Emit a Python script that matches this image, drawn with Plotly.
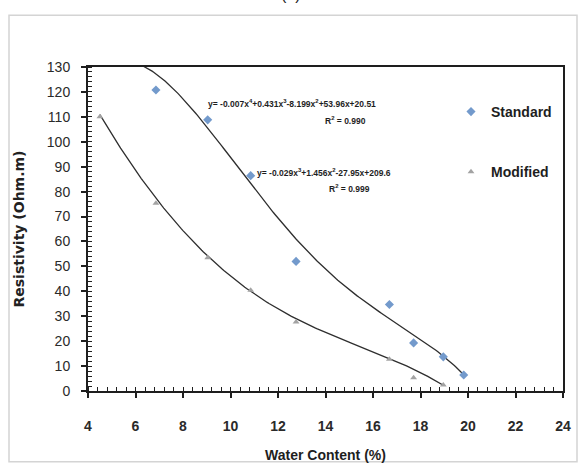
import numpy as np
import plotly.graph_objects as go

# ---- data ----
std_x = [6.86, 9.04, 10.85, 12.76, 16.69, 17.71, 18.96, 19.82]
std_y = [120.8, 108.8, 86.4, 52.0, 34.7, 19.3, 13.7, 6.4]
mod_x = [4.5, 6.86, 9.04, 10.85, 12.76, 16.69, 17.71, 18.96]
mod_y = [110.0, 75.3, 53.5, 40.4, 27.7, 12.7, 5.3, 2.4]

# points read along the trendlines drawn in the reference
std_fit_x = [6.44, 7.31, 8.01, 8.58, 9.14, 9.84, 10.54, 11.24, 11.94, 12.5,
             13.2, 13.63, 14.33, 15.03, 15.73, 16.57, 17.56, 18.54, 19.1, 19.82]
std_fit_y = [130, 123.1, 116.6, 111.5, 105.5, 97.5, 89.0, 80.6, 71.3, 63.2,
             55.6, 51.2, 45.0, 39.2, 33.9, 29.2, 23.8, 17.8, 13.7, 6.4]
mod_fit_x = [4.5, 5.49, 6.19, 6.89, 7.87, 9.0, 9.98, 10.85, 11.8, 12.76,
             13.9, 14.61, 15.73, 16.69, 17.83, 18.96]
mod_fit_y = [110, 97.0, 87.2, 76.0, 64.6, 54.0, 46.6, 40.6, 34.5, 28.9,
             23.6, 20.8, 17.0, 13.1, 8.0, 2.4]

x_ticks = [4, 6, 8, 10, 12, 14, 16, 18, 20, 22, 24]
y_ticks = [0, 10, 20, 30, 40, 50, 60, 70, 80, 90, 100, 110, 120, 130]

eq_std = "y= -0.007x<sup>4</sup>+0.431x<sup>3</sup>-8.199x<sup>2</sup>+53.96x+20.51"
r2_std = "R<sup>2</sup> = 0.990"
eq_mod = "y= -0.029x<sup>3</sup>+1.456x<sup>2</sup>-27.95x+209.6"
r2_mod = "R<sup>2</sup> = 0.999"

# smooth polynomial trendlines through the read curve points
w_std = [6, 4] + [1] * (len(std_fit_x) - 4) + [3, 6]
p_std = np.polyfit(std_fit_x, std_fit_y, 4, w=w_std)
p_mod = np.polyfit(mod_fit_x, mod_fit_y, 4)
tx_std = np.linspace(min(std_fit_x) - 0.15, max(std_fit_x), 200)
tx_mod = np.linspace(min(mod_fit_x), max(mod_fit_x), 200)

FONT = "Liberation Sans, Arial, sans-serif"

fig = go.Figure()
fig.add_trace(go.Scatter(x=tx_std, y=np.polyval(p_std, tx_std), mode="lines",
                         line=dict(color="#2e2e2e", width=1.3),
                         showlegend=False, hoverinfo="skip"))
fig.add_trace(go.Scatter(x=tx_mod, y=np.polyval(p_mod, tx_mod), mode="lines",
                         line=dict(color="#2e2e2e", width=1.3),
                         showlegend=False, hoverinfo="skip"))
fig.add_trace(go.Scatter(x=std_x, y=std_y, mode="markers", name="<b>Standard</b>",
                         legendgroup="s",
                         marker=dict(symbol="diamond", size=7, color="#739acc")))
fig.add_trace(go.Scatter(x=mod_x, y=mod_y, mode="markers", name="<b>Modified</b>",
                         legendgroup="m",
                         marker=dict(symbol="triangle-up", size=6, color="#a3a3a3")))

ann_font = dict(family=FONT, size=8.5, color="#1e1e1e")
fig.add_annotation(x=12.61, y=115.4, text="<b>" + eq_std + "</b>", showarrow=False,
                   font=ann_font, xanchor="center", yanchor="middle")
fig.add_annotation(x=14.84, y=108.6, text="<b>" + r2_std + "</b>", showarrow=False,
                   font=ann_font, xanchor="center", yanchor="middle")
fig.add_annotation(x=13.94, y=87.6, text="<b>" + eq_mod + "</b>", showarrow=False,
                   font=ann_font, xanchor="center", yanchor="middle")
fig.add_annotation(x=15.0, y=81.2, text="<b>" + r2_mod + "</b>", showarrow=False,
                   font=ann_font, xanchor="center", yanchor="middle")

# partially visible panel label above the frame
fig.add_annotation(xref="paper", yref="paper", x=(291 - 88) / 475, y=1.0, yshift=62,
                   text="(a)", showarrow=False,
                   font=dict(family=FONT, size=16, color="#222"),
                   xanchor="center", yanchor="bottom")

# light outer frame of the chart
fig.add_shape(type="rect", xref="paper", yref="paper",
              x0=(9 - 88) / 475, x1=(577 - 88) / 475,
              y0=(391 - 462) / 325, y1=(391 - 14) / 325,
              line=dict(color="#d4d4d4", width=1.5), fillcolor="rgba(0,0,0,0)",
              layer="below")

axis_common = dict(showline=True, linecolor="#1e1e1e", linewidth=2, mirror=True,
                   showgrid=False, zeroline=False, ticks="outside", ticklen=5,
                   tickcolor="#1e1e1e", tickwidth=1.5)

fig.update_xaxes(range=[4, 24], tickvals=x_ticks,
                 ticktext=["<b>%d</b>" % v for v in x_ticks],
                 tickfont=dict(family=FONT, size=14, color="#2a2a2a"),
                 minor=dict(dtick=0.4, ticks="inside", ticklen=4, tickcolor="#1e1e1e",
                            tickwidth=1),
                 ticklabelstandoff=16,
                 title=dict(text="<b>Water Content (%)</b>",
                            font=dict(family=FONT, size=14, color="#1e1e1e"),
                            standoff=17),
                 **axis_common)
fig.update_yaxes(range=[0, 130], tickvals=y_ticks,
                 ticktext=["%d" % v for v in y_ticks],
                 tickfont=dict(family=FONT, size=14, color="#2a2a2a"),
                 minor=dict(dtick=2, ticks="inside", ticklen=4, tickcolor="#1e1e1e",
                            tickwidth=1),
                 ticklabelstandoff=8,
                 title=dict(text="<b>Resistivity (Ohm.m)</b>",
                            font=dict(family="DejaVu Sans, sans-serif", size=14,
                                      color="#222222"),
                            standoff=19),
                 **axis_common)

fig.update_layout(
    width=582, height=466,
    margin=dict(l=88, r=19, t=67, b=75, autoexpand=False),
    paper_bgcolor="white", plot_bgcolor="white",
    showlegend=True,
    legend=dict(x=(451 - 88) / 475, y=(391 - 96) / 324, xanchor="left", yanchor="top",
                bgcolor="rgba(0,0,0,0)", tracegroupgap=39,
                font=dict(family=FONT, size=14, color="#1e1e1e"),
                itemwidth=30),
)

fig.write_html("out.html", config={"displayModeBar": False},
               post_script="document.body.style.margin='0px';")
